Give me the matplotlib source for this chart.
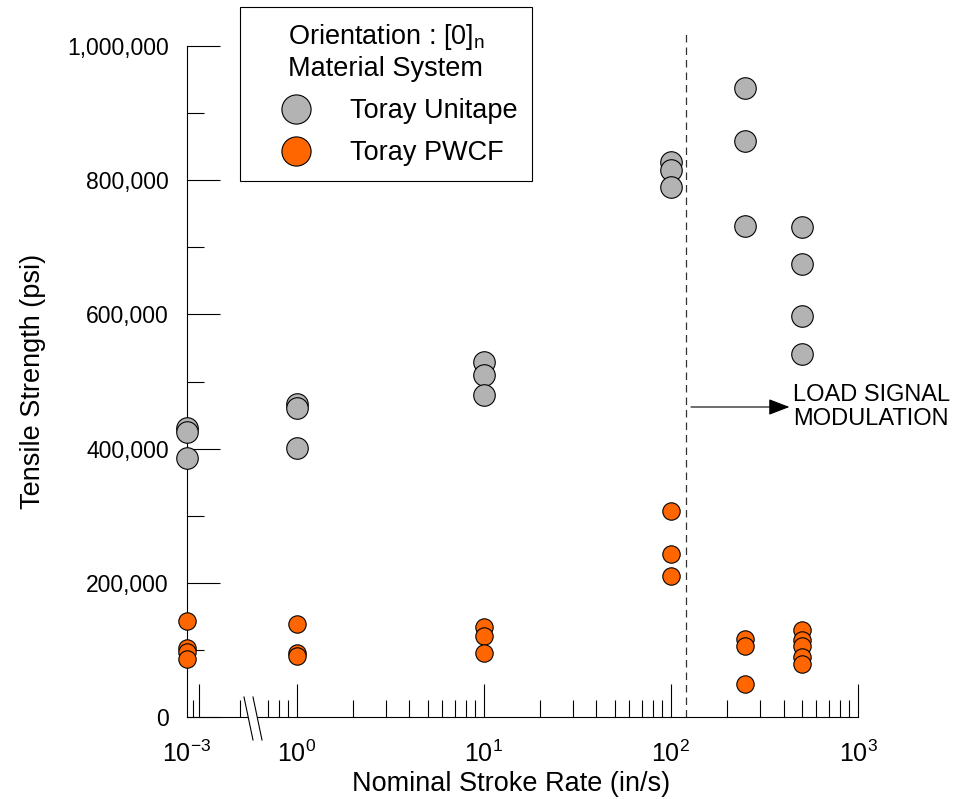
import numpy as np
import matplotlib.pyplot as plt
from matplotlib.lines import Line2D
from matplotlib.patches import Polygon

plt.rcParams['font.family'] = ['Liberation Sans', 'DejaVu Sans']
plt.rcParams['mathtext.fontset'] = 'custom'
plt.rcParams['mathtext.rm'] = 'Liberation Sans'

# Datos (resistencia a tracción, psi)
unitape_rate = [1e-3, 1e-3, 1e-3, 1, 1, 1, 10, 10, 10, 100, 100, 100,
                250, 250, 250, 500, 500, 500, 500]
unitape_psi = [430000, 424000, 386000, 466000, 461000, 401000,
               529000, 510000, 480000, 827000, 815000, 790000,
               938000, 859000, 732000, 730000, 675000, 598000, 541000]

pwcf_rate = [1e-3, 1e-3, 1e-3, 1e-3, 1, 1, 1, 10, 10, 10, 100, 100, 100,
             250, 250, 250, 500, 500, 500, 500, 500]
pwcf_psi = [143000, 103000, 97000, 86000, 138000, 95000, 91000,
            134000, 121000, 96000, 307000, 243000, 210000,
            116000, 106000, 49000, 129000, 115000, 106000, 90000, 79000]

modulation_rate = 120  # inicio de modulación de la señal de carga

# eje x partido: 10^-3 se dibuja en el borde izquierdo
X_LEFT = 10 ** -0.587


def x_pos(rates):
    return [r if r >= 1 else X_LEFT for r in rates]


fig = plt.figure(figsize=(9.62, 7.99), dpi=100)
W, H = 962, 799
ax = fig.add_axes([187 / W, (H - 717) / H, (858 - 187) / W, (717 - 46) / H])

ax.scatter(x_pos(unitape_rate), unitape_psi, s=15.5 ** 2, c='#b3b3b3',
           edgecolors='black', linewidths=0.8, zorder=3, clip_on=False)
ax.scatter(x_pos(pwcf_rate), pwcf_psi, s=12.5 ** 2, c='#ff6600',
           edgecolors='black', linewidths=0.8, zorder=4, clip_on=False)

ax.set_xscale('log')
ax.set_xlim(X_LEFT, 1000)
ax.set_ylim(0, 1000000)

for s in ['top', 'right']:
    ax.spines[s].set_visible(False)
ax.spines['left'].set_linewidth(0.8)
ax.spines['bottom'].set_linewidth(0.8)

# ticks
ax.set_yticks(np.arange(0, 1000001, 200000))
ax.set_yticks(np.arange(100000, 1000000, 200000), minor=True)
ax.set_yticklabels(['{:,}'.format(v) for v in range(0, 1000001, 200000)])
ax.set_xticks([1, 10, 100, 1000, 0.3])
ax.set_xticklabels(['', '', '', '', ''])
minor_x = [0.278, 0.5, 0.7, 0.8, 0.9]
for d in [1, 10, 100]:
    minor_x += [k * d for k in range(2, 10)]
ax.set_xticks(minor_x, minor=True)
ax.xaxis.set_minor_formatter(plt.NullFormatter())
ax.tick_params(which='major', direction='in', length=24, width=0.8,
               labelsize=16.5, pad=13)
ax.tick_params(which='minor', direction='in', length=12, width=0.8)

for lbl, xv in zip(['-3', '0', '1', '2', '3'], [X_LEFT, 1, 10, 100, 1000]):
    ax.text(xv, -0.035, r'$\mathregular{10^{' + lbl + '}}$',
            transform=ax.get_xaxis_transform(), ha='center', va='top',
            fontsize=18)

ax.set_xlabel('Nominal Stroke Rate (in/s)', fontsize=19.5)
ax.xaxis.set_label_coords((511 - 187) / 671, (717 - 771) / 671)
ax.set_ylabel('Tensile Strength (psi)', fontsize=19.5)
ax.yaxis.set_label_coords((46 - 187) / 671, 0.5)

# marca de corte del eje
def px(xp, yp):
    return ((xp - 187) / 671, (717 - yp) / 671)

ax.add_patch(Polygon([px(244, 697), px(253, 740), px(262, 740), px(253, 697)],
                     closed=True, fc='white', ec='none',
                     transform=ax.transAxes, clip_on=False, zorder=5))
for x0 in [244, 253]:
    ax.add_line(Line2D([px(x0, 697)[0], px(x0 + 9, 740)[0]],
                       [px(x0, 697)[1], px(x0 + 9, 740)[1]],
                       color='black', lw=0.8, transform=ax.transAxes,
                       clip_on=False, zorder=6))

# línea de modulación
ax.axvline(modulation_rate, ymin=0, ymax=1.024, color='#333333', lw=0.9,
           ls=(0, (6, 4)), clip_on=False)
ax.annotate('', xy=(430, 462000), xytext=(128, 462000),
            arrowprops=dict(arrowstyle='-|>,head_length=1.3,head_width=0.5',
                            color='black', lw=0.8, shrinkA=0, shrinkB=0))
ax.text(450, 462000, 'LOAD SIGNAL\nMODULATION', fontsize=17, ha='left',
        va='center', linespacing=1.15)

# leyenda
h1 = Line2D([], [], ls='none', marker='o', ms=21, mfc='#b3b3b3',
            mec='black', mew=0.8)
h2 = Line2D([], [], ls='none', marker='o', ms=21, mfc='#ff6600',
            mec='black', mew=0.8)
leg = fig.legend([h1, h2], ['Toray Unitape', 'Toray PWCF'],
                 title='Orientation : [0]$_\\mathregular{n}$\nMaterial System',
                 loc='upper left', bbox_to_anchor=(240 / W, 1 - 7 / H),
                 fontsize=19.5, title_fontsize=19.5, frameon=True,
                 fancybox=False, edgecolor='black', framealpha=1,
                 handletextpad=0.5, labelspacing=0.6, borderpad=0.55,
                 handlelength=3.0, borderaxespad=0)
leg.get_frame().set_linewidth(0.8)

plt.savefig('out.png', dpi=100)
